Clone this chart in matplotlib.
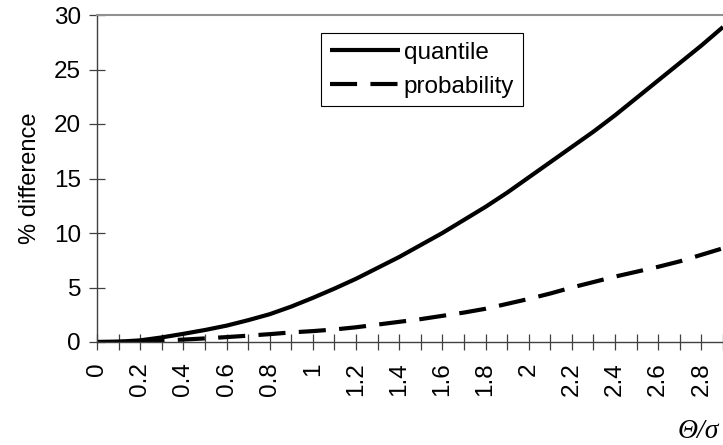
import numpy as np
import matplotlib.pyplot as plt

theta = [0.0, 0.1, 0.2, 0.3, 0.4, 0.5, 0.6, 0.7, 0.8, 0.9,
         1.0, 1.1, 1.2, 1.3, 1.4, 1.5, 1.6, 1.7, 1.8, 1.9,
         2.0, 2.1, 2.2, 2.3, 2.4, 2.5, 2.6, 2.7, 2.8, 2.9]
quantile = [0.0, 0.03, 0.15, 0.42, 0.75, 1.1, 1.5, 2.0, 2.55, 3.25,
            4.05, 4.9, 5.8, 6.8, 7.8, 8.9, 10.0, 11.2, 12.4, 13.7,
            15.1, 16.5, 17.9, 19.3, 20.8, 22.4, 24.0, 25.6, 27.2, 28.9]
probability = [0.0, 0.01, 0.05, 0.12, 0.22, 0.33, 0.45, 0.58, 0.72, 0.88,
               1.0, 1.15, 1.35, 1.6, 1.85, 2.1, 2.4, 2.7, 3.05, 3.5,
               3.95, 4.45, 5.0, 5.5, 6.0, 6.45, 6.9, 7.4, 8.0, 8.6]
tick_labels = ['0', '0.2', '0.4', '0.6', '0.8', '1', '1.2', '1.4', '1.6',
               '1.8', '2', '2.2', '2.4', '2.6', '2.8']

plt.rcParams['font.family'] = ['Liberation Sans', 'DejaVu Sans']

fig = plt.figure(figsize=(7.23, 4.45), dpi=100)
ax = fig.add_axes([97/723, 103/445, 626/723, 327/445])

idx = np.arange(len(theta))
ax.plot(idx, quantile, color='black', lw=3, label='quantile', solid_capstyle='butt')
ax.plot(idx, probability, color='black', lw=3, dashes=(6.5, 3.2), label='probability',
        dash_capstyle='butt')

ax.set_xlim(0, 626/21.75)
ax.set_ylim(0, 30)
ax.set_yticks(range(0, 31, 5))
ax.set_xticks(idx[::2])
ax.set_xticklabels(tick_labels, rotation=90)
ax.set_xticks(idx, minor=True)

ax.tick_params(axis='both', which='both', direction='inout', length=11, width=0.9,
               color='#404040', labelsize=17.5)
ax.tick_params(axis='y', pad=6)
ax.tick_params(axis='x', pad=9)

for s in ['left', 'bottom']:
    ax.spines[s].set_color('#404040')
    ax.spines[s].set_linewidth(1.0)
ax.spines['top'].set_color('#909090')
ax.spines['top'].set_linewidth(1.5)
ax.spines['right'].set_visible(False)

ax.set_ylabel('% difference', fontsize=17, labelpad=9)
fig.text(719/723, 1 - 432/445, 'Θ/σ', family=['Liberation Serif', 'DejaVu Serif'],
         style='italic', fontsize=20, ha='right', va='center')

leg = ax.legend(loc='upper left', bbox_to_anchor=(0.358, 0.945), fontsize=17.5,
                fancybox=False, edgecolor='black', framealpha=1, handlelength=2.9,
                handletextpad=0.15, borderpad=0.35, labelspacing=0.5, borderaxespad=0)
leg.get_frame().set_linewidth(0.8)

fig.savefig('out.png', dpi=100)
